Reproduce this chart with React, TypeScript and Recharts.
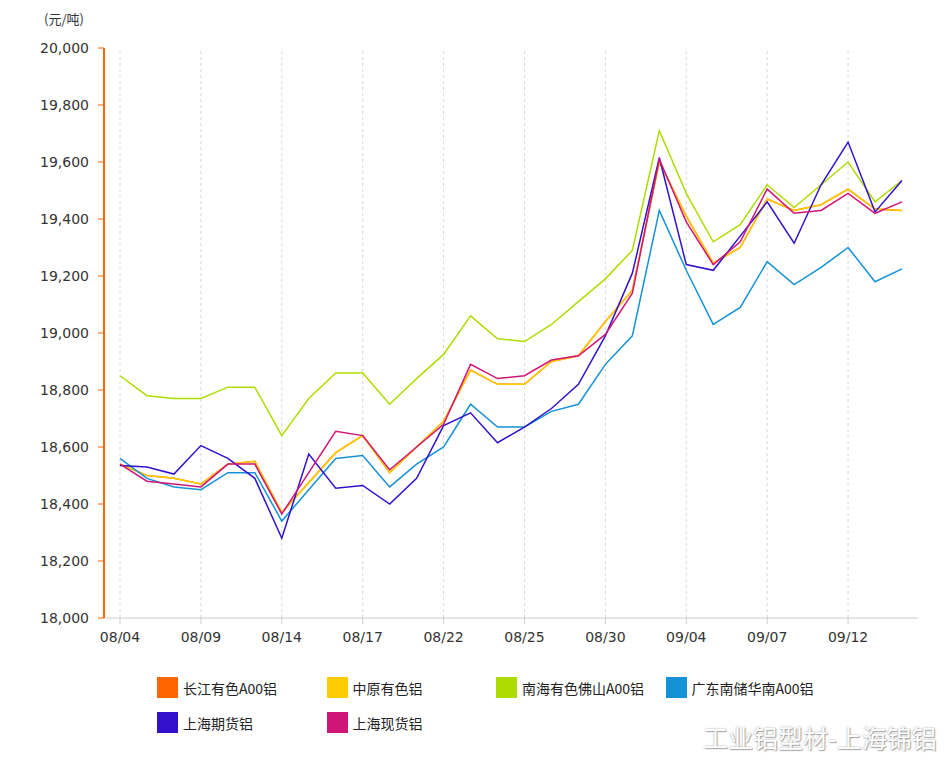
import { LineChart, Line, XAxis, YAxis, ReferenceLine } from "recharts";

// trading days, Aug 4 – Sep 14
const dates = [
  "08/04", "08/07", "08/08", "08/09", "08/10", "08/11", "08/14", "08/15", "08/16", "08/17",
  "08/18", "08/21", "08/22", "08/23", "08/24", "08/25", "08/28", "08/29", "08/30", "08/31",
  "09/01", "09/04", "09/05", "09/06", "09/07", "09/08", "09/11", "09/12", "09/13", "09/14",
];

// dates that carry a label and a dashed grid line
const labelDates = ["08/04", "08/09", "08/14", "08/17", "08/22", "08/25", "08/30", "09/04", "09/07", "09/12"];

const yTicks = [18000, 18200, 18400, 18600, 18800, 19000, 19200, 19400, 19600, 19800, 20000];

const changjiang = [
  18540, 18500, 18490, 18470, 18540, 18550, 18370, 18475, 18580, 18640,
  18510, 18600, 18690, 18870, 18820, 18820, 18900, 18920, 19040, 19150,
  19600, 19410, 19245, 19300, 19470, 19430, 19450, 19505, 19435, 19430,
];
const zhongyuan = [
  18540, 18500, 18490, 18470, 18540, 18550, 18370, 18475, 18580, 18640,
  18510, 18600, 18690, 18870, 18820, 18820, 18900, 18920, 19040, 19150,
  19600, 19410, 19245, 19300, 19470, 19430, 19450, 19505, 19435, 19430,
];
const nanhai = [
  18850, 18780, 18770, 18770, 18810, 18810, 18640, 18770, 18860, 18860,
  18750, 18840, 18925, 19060, 18980, 18970, 19030, 19110, 19190, 19290,
  19710, 19490, 19320, 19380, 19520, 19440, 19520, 19600, 19460, 19535,
];
const guangdong = [
  18560, 18490, 18460, 18450, 18510, 18510, 18340, 18450, 18560, 18570,
  18460, 18540, 18600, 18750, 18670, 18670, 18725, 18750, 18890, 18990,
  19430, 19220, 19030, 19090, 19250, 19170, 19230, 19300, 19180, 19225,
];
const shfe = [
  18535, 18530, 18505, 18605, 18560, 18490, 18280, 18575, 18455, 18465,
  18400, 18490, 18675, 18720, 18615, 18670, 18735, 18820, 18990, 19210,
  19615, 19240, 19220, 19340, 19460, 19315, 19520, 19670, 19425, 19535,
];
const shSpot = [
  18540, 18480, 18470, 18460, 18540, 18540, 18365, 18510, 18655, 18640,
  18520, 18600, 18680, 18890, 18840, 18850, 18905, 18920, 18995, 19140,
  19610, 19390, 19240, 19320, 19505, 19420, 19430, 19490, 19420, 19460,
];

const series = [
  { key: "cj", name: "长江有色A00铝", color: "#FF6600", values: changjiang },
  { key: "zy", name: "中原有色铝", color: "#FFCC00", values: zhongyuan },
  { key: "nh", name: "南海有色佛山A00铝", color: "#AEDC00", values: nanhai },
  { key: "gd", name: "广东南储华南A00铝", color: "#1592D6", values: guangdong },
  { key: "qh", name: "上海期货铝", color: "#3311CC", values: shfe },
  { key: "xh", name: "上海现货铝", color: "#D01578", values: shSpot },
];

const chartData = dates.map((d, i) => {
  const row: Record<string, string | number> = { d };
  series.forEach((s) => (row[s.key] = s.values[i]));
  return row;
});

const font = "'DejaVu Sans', Verdana, sans-serif";
const cjk = "'Noto Sans CJK SC', sans-serif";

export default function App() {
  return (
    <div style={{ position: "absolute", left: 0, top: 0, width: 946, height: 761, background: "#fff" }}>
      <div style={{ position: "absolute", left: 44, top: 9, fontSize: 13, fontFamily: cjk, color: "#333" }}>
        (元/吨)
      </div>
      <LineChart
        width={946}
        height={660}
        data={chartData}
        margin={{ top: 48, right: 28, bottom: 0, left: 0 }}
      >
        <XAxis
          dataKey="d"
          ticks={labelDates}
          interval={0}
          height={42}
          padding={{ left: 16, right: 16 }}
          axisLine={{ stroke: "#cccccc" }}
          tickLine={{ stroke: "#cccccc" }}
          tickSize={6}
          tickMargin={8}
          tick={{ fontSize: 14, fill: "#333", fontFamily: font }}
        />
        <YAxis
          width={104}
          domain={[18000, 20000]}
          ticks={yTicks}
          interval={0}
          axisLine={{ stroke: "#FF6600", strokeWidth: 2 }}
          tickLine={{ stroke: "#FF6600" }}
          tickSize={6}
          tickMargin={9}
          tickFormatter={(v: number) => v.toLocaleString("en-US")}
          tick={{ fontSize: 14, fill: "#333", fontFamily: font }}
        />
        {labelDates.map((d) => (
          <ReferenceLine key={d} x={d} stroke="#d8d8d8" strokeDasharray="3 3" />
        ))}
        {series.map((s) => (
          <Line
            key={s.key}
            dataKey={s.key}
            name={s.name}
            stroke={s.color}
            strokeWidth={1.5}
            dot={false}
            activeDot={false}
            type="linear"
            isAnimationActive={false}
          />
        ))}
      </LineChart>
      <div
        style={{
          position: "absolute",
          left: 157,
          top: 677,
          display: "grid",
          gridTemplateColumns: "repeat(4, 169.5px)",
          rowGap: 14,
          fontFamily: cjk,
          fontSize: 14,
          color: "#222",
        }}
      >
        {series.map((s) => (
          <div key={s.key} style={{ display: "flex", alignItems: "center", height: 21 }}>
            <span style={{ width: 21, height: 21, background: s.color, display: "inline-block" }} />
            <span style={{ marginLeft: 5 }}>{s.name}</span>
          </div>
        ))}
      </div>
      <div
        style={{
          position: "absolute",
          left: 703,
          top: 719,
          fontFamily: cjk,
          fontSize: 25,
          color: "#fff",
          textShadow: "0 0 2px #999, 1px 1px 1px #aaa",
        }}
      >
        工业铝型材-上海锦铝
      </div>
    </div>
  );
}
